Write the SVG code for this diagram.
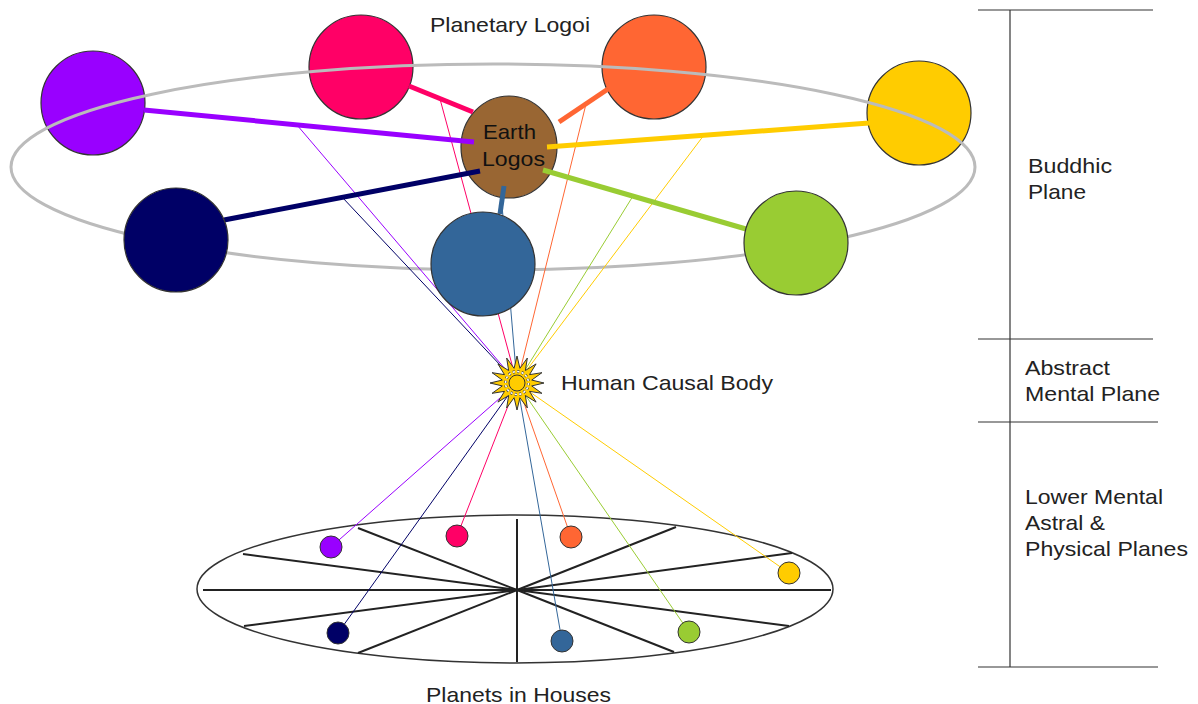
<svg xmlns="http://www.w3.org/2000/svg" width="1198" height="704" viewBox="0 0 1198 704">
<style>
text{font-family:"Liberation Sans",Arial,sans-serif;font-size:21px;fill:#222}
.big{stroke:#333;stroke-width:1.2}
.small{stroke:#333;stroke-width:1}
.thick{stroke-width:5;fill:none}
.thin{stroke-width:1;fill:none}
.spoke{stroke:#222;stroke-width:2;fill:none}
.scale{stroke:#333;stroke-width:1.2;fill:none}
</style>
<rect width="1198" height="704" fill="#fff"/>

<!-- back planetary logoi -->
<g id="logos-purple"><circle class="big" cx="93" cy="103" r="52" fill="#9900FF"/></g>
<g id="logos-pink"><circle class="big" cx="361" cy="67" r="52" fill="#FF0066"/></g>
<g id="logos-orange"><circle class="big" cx="654" cy="67" r="52" fill="#FF6633"/></g>
<g id="logos-yellow"><circle class="big" cx="919" cy="113" r="52" fill="#FFCC00"/></g>

<!-- orbit -->
<g id="orbit"><ellipse cx="493" cy="167" rx="482" ry="103" fill="none" stroke="#BBBBBB" stroke-width="3"/></g>

<!-- houses chart -->
<g id="houses">
<ellipse cx="515" cy="589" rx="318" ry="74" fill="none" stroke="#333" stroke-width="1.5"/>
<line class="spoke" x1="203" y1="590" x2="831" y2="590" stroke-width="2.5"/>
<line class="spoke" x1="517" y1="519" x2="517" y2="662" stroke-width="2.5"/>
<line class="spoke" x1="517" y1="590" x2="358" y2="528"/>
<line class="spoke" x1="517" y1="590" x2="243" y2="554"/>
<line class="spoke" x1="517" y1="590" x2="244" y2="626"/>
<line class="spoke" x1="517" y1="590" x2="358" y2="653"/>
<line class="spoke" x1="517" y1="590" x2="676" y2="527"/>
<line class="spoke" x1="517" y1="590" x2="792" y2="553"/>
<line class="spoke" x1="517" y1="590" x2="789" y2="626"/>
<line class="spoke" x1="517" y1="590" x2="674" y2="652"/>
</g>

<!-- connectors -->
<g id="connectors">
<g id="thin-upper">
<line class="thin" x1="297" y1="125" x2="517" y2="383" stroke="#9900FF"/>
<line class="thin" x1="342" y1="197" x2="517" y2="383" stroke="#000066"/>
<line class="thin" x1="440" y1="99" x2="517" y2="383" stroke="#FF0066"/>
<line class="thin" x1="586" y1="104" x2="517" y2="383" stroke="#FF6633"/>
<line class="thin" x1="704" y1="135" x2="517" y2="383" stroke="#FFCC00"/>
<line class="thin" x1="633" y1="196" x2="517" y2="383" stroke="#99CC33"/>
<line class="thin" x1="502" y1="205" x2="517" y2="383" stroke="#336699"/>
</g>
<g id="thin-lower">
<line class="thin" x1="517" y1="383" x2="331" y2="547" stroke="#9900FF"/>
<line class="thin" x1="517" y1="383" x2="338" y2="633" stroke="#000066"/>
<line class="thin" x1="517" y1="383" x2="457" y2="536" stroke="#FF0066"/>
<line class="thin" x1="517" y1="383" x2="571" y2="537" stroke="#FF6633"/>
<line class="thin" x1="517" y1="383" x2="789" y2="573" stroke="#FFCC00"/>
<line class="thin" x1="517" y1="383" x2="689" y2="632" stroke="#99CC33"/>
<line class="thin" x1="517" y1="383" x2="562" y2="641" stroke="#336699"/>
</g>
</g>

<!-- earth logos -->
<g id="earth-logos">
<ellipse class="big" cx="509" cy="147" rx="48" ry="51" fill="#996633"/>
</g>

<g id="thick-connectors">
<line class="thick" x1="144" y1="110" x2="474" y2="142" stroke="#9900FF"/>
<line class="thick" x1="224" y1="220" x2="480" y2="171" stroke="#000066"/>
<line class="thick" x1="409" y1="86" x2="473" y2="112" stroke="#FF0066"/>
<line class="thick" x1="608" y1="89" x2="559" y2="122" stroke="#FF6633"/>
<line class="thick" x1="869" y1="123" x2="547" y2="147" stroke="#FFCC00"/>
<line class="thick" x1="746" y1="229" x2="543" y2="170" stroke="#99CC33"/>
<line class="thick" x1="504" y1="186" x2="500" y2="214" stroke="#336699"/>
</g>

<g id="earth-logos-label">
<text x="483" y="139" textLength="53" lengthAdjust="spacingAndGlyphs" style="fill:#111">Earth</text>
<text x="482" y="166" textLength="63" lengthAdjust="spacingAndGlyphs" style="fill:#111">Logos</text>
</g>

<!-- front planetary logoi -->
<g id="logos-navy"><circle class="big" cx="176" cy="240" r="52" fill="#000066"/></g>
<g id="logos-blue"><circle class="big" cx="483" cy="264" r="52" fill="#336699"/></g>
<g id="logos-green"><circle class="big" cx="796" cy="243" r="52" fill="#99CC33"/></g>

<!-- causal body star -->
<g id="causal-body" transform="translate(517,383)">
<polygon fill="#FFCC00" stroke="#333" stroke-width="1" stroke-linejoin="round" points="0,-27 2.93,-14.71 10.33,-24.95 8.33,-12.47 19.09,-19.09 12.47,-8.33 24.95,-10.33 14.71,-2.93 27,0 14.71,2.93 24.95,10.33 12.47,8.33 19.09,19.09 8.33,12.47 10.33,24.95 2.93,14.71 0,27 -2.93,14.71 -10.33,24.95 -8.33,12.47 -19.09,19.09 -12.47,8.33 -24.95,10.33 -14.71,2.93 -27,0 -14.71,-2.93 -24.95,-10.33 -12.47,-8.33 -19.09,-19.09 -8.33,-12.47 -10.33,-24.95 -2.93,-14.71"/>
<circle r="11.5" fill="none" stroke="#444" stroke-width="3" stroke-dasharray="2.2 2.3"/>
<circle r="11.5" fill="none" stroke="#fff" stroke-width="1.6" stroke-dasharray="2.2 2.3"/>
<circle r="8" fill="#FFCC00" stroke="#333" stroke-width="1"/>
</g>

<!-- planets in houses -->
<g id="planet-purple"><circle class="small" cx="331" cy="547" r="11" fill="#9900FF"/></g>
<g id="planet-pink"><circle class="small" cx="457" cy="536" r="11" fill="#FF0066"/></g>
<g id="planet-orange"><circle class="small" cx="571" cy="537" r="11" fill="#FF6633"/></g>
<g id="planet-yellow"><circle class="small" cx="789" cy="573" r="11" fill="#FFCC00"/></g>
<g id="planet-navy"><circle class="small" cx="338" cy="633" r="11" fill="#000066"/></g>
<g id="planet-blue"><circle class="small" cx="562" cy="641" r="11" fill="#336699"/></g>
<g id="planet-green"><circle class="small" cx="689" cy="632" r="11" fill="#99CC33"/></g>

<!-- labels -->
<g id="labels">
<text x="430" y="32" textLength="160" lengthAdjust="spacingAndGlyphs">Planetary Logoi</text>
<text x="561" y="390" textLength="212" lengthAdjust="spacingAndGlyphs">Human Causal Body</text>
<text x="426" y="702" textLength="185" lengthAdjust="spacingAndGlyphs">Planets in Houses</text>
</g>

<!-- plane scale -->
<g id="plane-scale">
<line class="scale" x1="978" y1="10" x2="1153" y2="10"/>
<line class="scale" x1="1010" y1="10" x2="1010" y2="667"/>
<line class="scale" x1="978" y1="339" x2="1153" y2="339"/>
<line class="scale" x1="978" y1="422" x2="1158" y2="422"/>
<line class="scale" x1="978" y1="667" x2="1158" y2="667"/>
</g>
<g id="plane-buddhic">
<text x="1028" y="173" textLength="84" lengthAdjust="spacingAndGlyphs">Buddhic</text>
<text x="1028" y="199" textLength="58" lengthAdjust="spacingAndGlyphs">Plane</text>
</g>
<g id="plane-abstract">
<text x="1025" y="375" textLength="85" lengthAdjust="spacingAndGlyphs">Abstract</text>
<text x="1025" y="401" textLength="135" lengthAdjust="spacingAndGlyphs">Mental Plane</text>
</g>
<g id="plane-lower">
<text x="1025" y="504" textLength="138" lengthAdjust="spacingAndGlyphs">Lower Mental</text>
<text x="1025" y="530" textLength="80" lengthAdjust="spacingAndGlyphs">Astral &amp;</text>
<text x="1025" y="556" textLength="163" lengthAdjust="spacingAndGlyphs">Physical Planes</text>
</g>
</svg>
